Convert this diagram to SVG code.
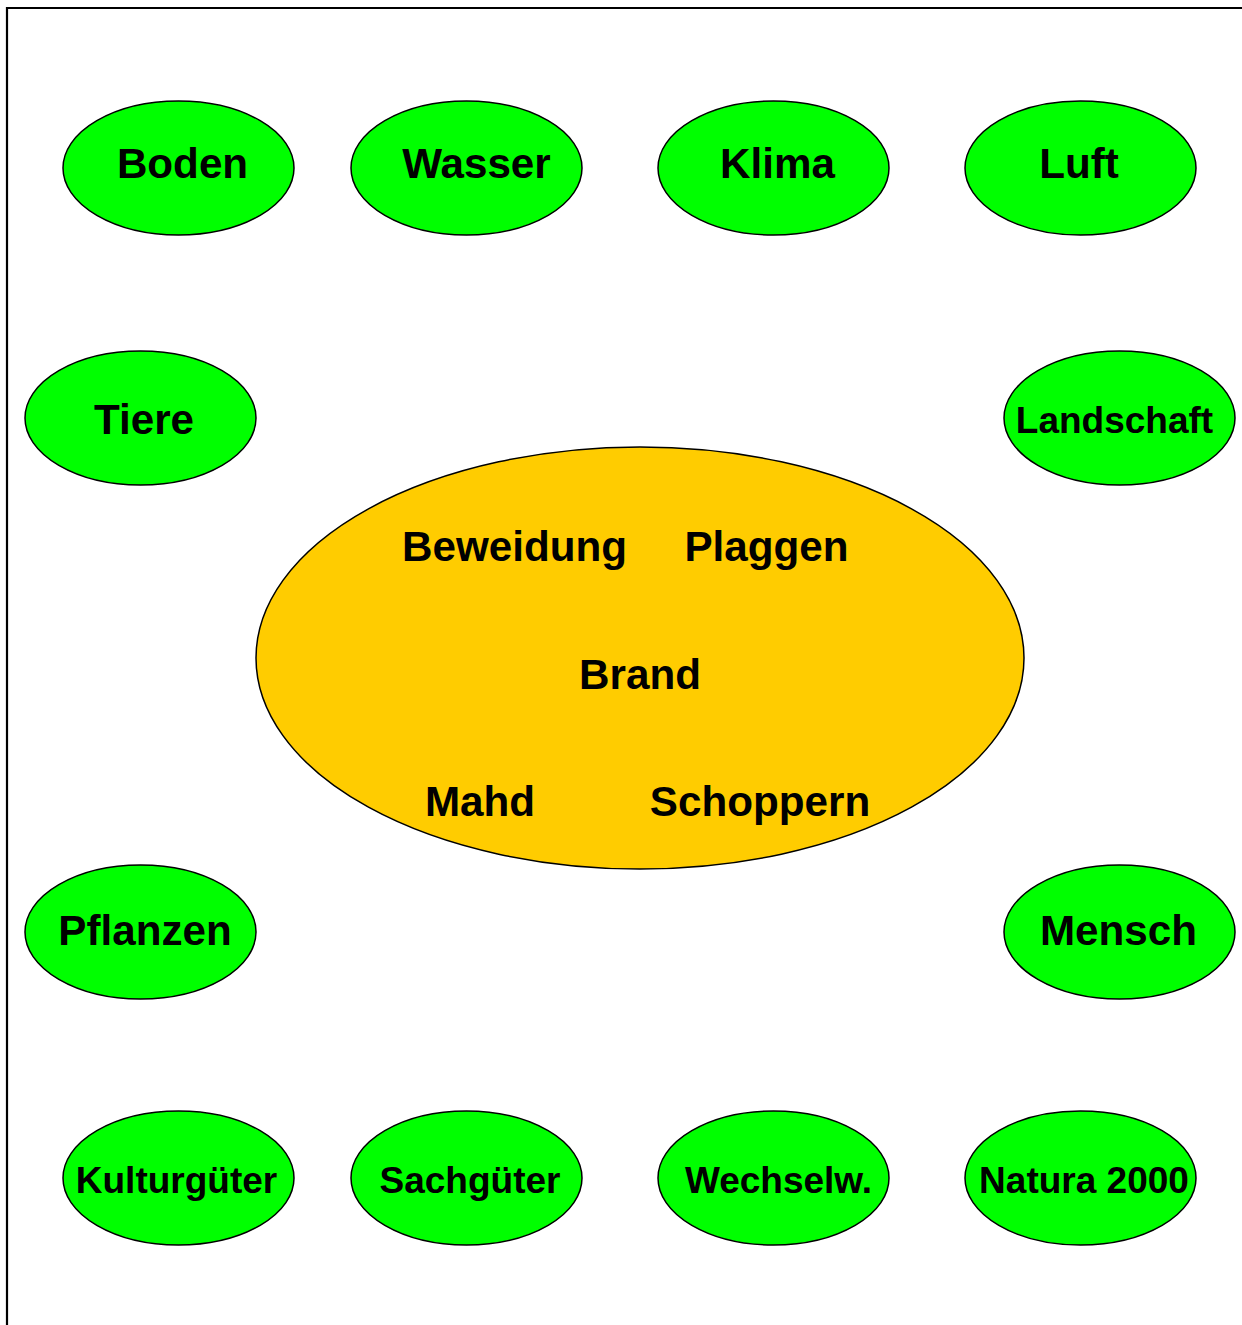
<svg xmlns="http://www.w3.org/2000/svg" width="1242" height="1325" viewBox="0 0 1242 1325">
<style>
.g{fill:#00ff00;stroke:#000;stroke-width:1.5}
.o{fill:#ffcc00;stroke:#000;stroke-width:1.5}
text{font-family:"Liberation Sans",Arial,sans-serif;font-weight:bold;fill:#000;text-anchor:middle}
.l{font-size:42.2px}
.s{font-size:37px}
</style>
<rect width="1242" height="1325" fill="#fff"/>
<path d="M7 1325V8H1242" fill="none" stroke="#000" stroke-width="2.2"/>
<g id="connectors"/>
<g id="center"><ellipse class="o" cx="640" cy="658" rx="384" ry="211"/>
<text class="l" x="514.5" y="561">Beweidung</text>
<text class="l" x="766.5" y="561">Plaggen</text>
<text class="l" x="640" y="689">Brand</text>
<text class="l" x="480" y="816">Mahd</text>
<text class="l" x="760" y="816">Schoppern</text></g>
<g id="boden"><ellipse class="g" cx="178.5" cy="168" rx="115.5" ry="67"/><text class="l" x="182.5" y="178">Boden</text></g>
<g id="wasser"><ellipse class="g" cx="466.5" cy="168" rx="115.5" ry="67"/><text class="l" x="476.5" y="178">Wasser</text></g>
<g id="klima"><ellipse class="g" cx="773.5" cy="168" rx="115.5" ry="67"/><text class="l" x="777.5" y="178">Klima</text></g>
<g id="luft"><ellipse class="g" cx="1080.5" cy="168" rx="115.5" ry="67"/><text class="l" x="1079" y="178">Luft</text></g>
<g id="tiere"><ellipse class="g" cx="140.5" cy="418" rx="115.5" ry="67"/><text class="l" x="144" y="434">Tiere</text></g>
<g id="landschaft"><ellipse class="g" cx="1119.5" cy="418" rx="115.5" ry="67"/><text class="s" x="1114.5" y="433">Landschaft</text></g>
<g id="pflanzen"><ellipse class="g" cx="140.5" cy="932" rx="115.5" ry="67"/><text class="l" x="145" y="945">Pflanzen</text></g>
<g id="mensch"><ellipse class="g" cx="1119.5" cy="932" rx="115.5" ry="67"/><text class="l" x="1118.5" y="945">Mensch</text></g>
<g id="kulturgueter"><ellipse class="g" cx="178.5" cy="1178" rx="115.5" ry="67"/><text class="s" x="176.5" y="1193">Kulturgüter</text></g>
<g id="sachgueter"><ellipse class="g" cx="466.5" cy="1178" rx="115.5" ry="67"/><text class="s" x="470" y="1193">Sachgüter</text></g>
<g id="wechselw"><ellipse class="g" cx="773.5" cy="1178" rx="115.5" ry="67"/><text class="s" x="778.5" y="1193">Wechselw.</text></g>
<g id="natura2000"><ellipse class="g" cx="1080.5" cy="1178" rx="115.5" ry="67"/><text class="s" x="1084" y="1193">Natura 2000</text></g>
</svg>
